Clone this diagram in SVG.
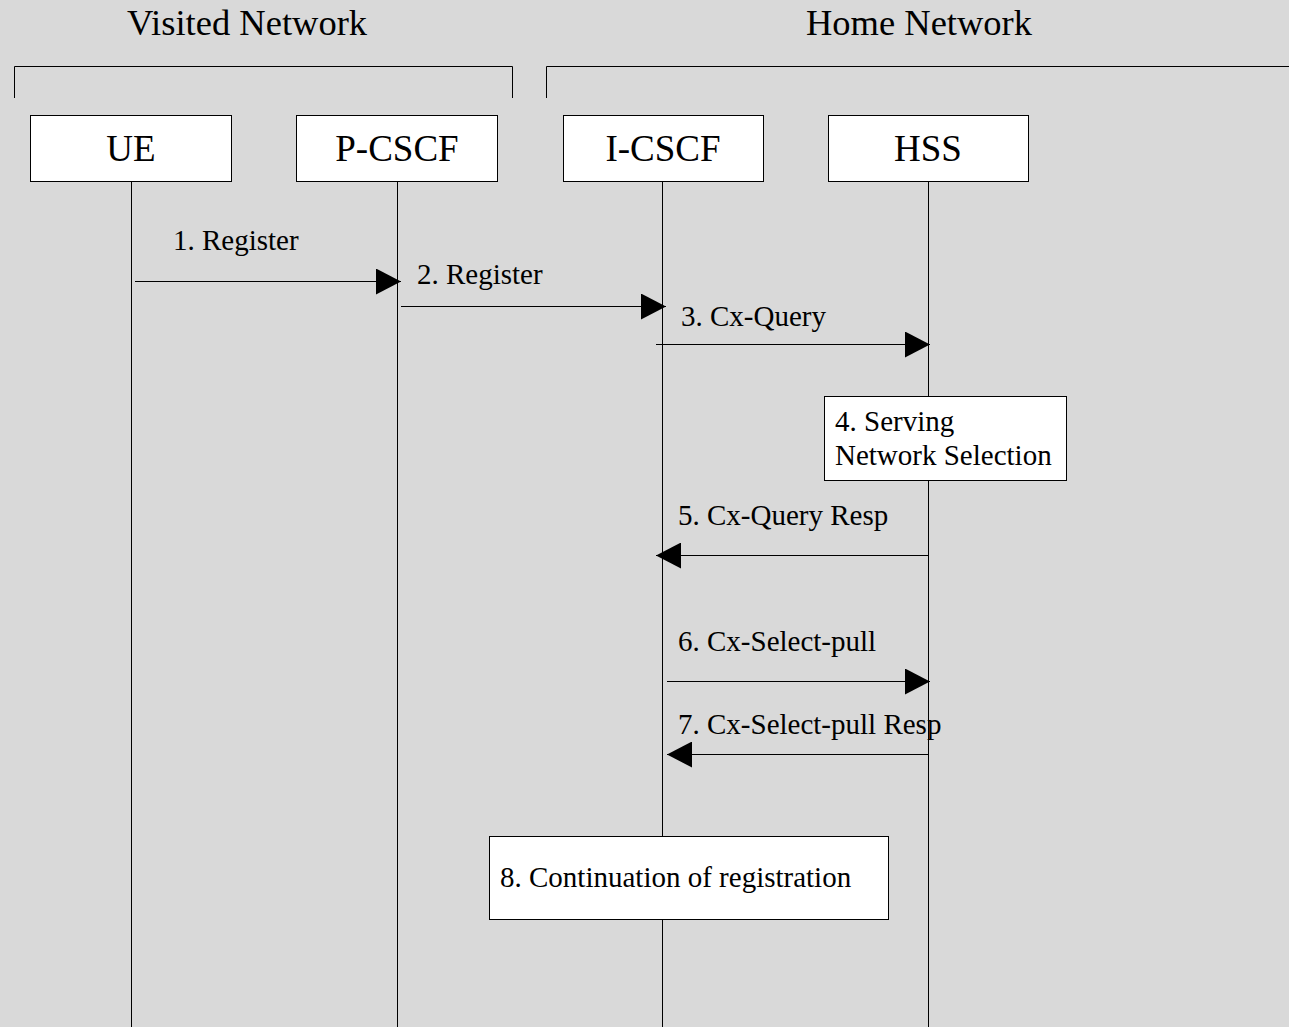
<svg xmlns="http://www.w3.org/2000/svg" width="1289" height="1027" viewBox="0 0 1289 1027">
<defs>
<marker id="ah" markerWidth="25" markerHeight="26" refX="25" refY="13" orient="auto" markerUnits="userSpaceOnUse">
<path d="M0,0 L25,13 L0,26 Z" fill="#000"/>
</marker>
<style>
.t{font-family:"Liberation Serif","Times New Roman",serif;fill:#000}
.big{font-size:37px}
.ttl{font-size:36.5px}
.lbl{font-size:29px}
.box{fill:#fff;stroke:#000;stroke-width:1}
.ll{stroke:#000;stroke-width:1;fill:none}
.msg{stroke:#000;stroke-width:1;fill:none;marker-end:url(#ah)}
</style>
</defs>
<rect x="0" y="0" width="1289" height="1027" fill="#d9d9d9"/>
<g id="titles">
<text class="t ttl" x="247" y="35" text-anchor="middle">Visited Network</text>
<text class="t ttl" x="919" y="35" text-anchor="middle">Home Network</text>
<path class="ll" d="M14.5,98 V66.5 H512.5 V98"/>
<path class="ll" d="M546.5,98 V66.5 H1289"/>
</g>
<g id="lifelines">
<line class="ll" x1="131.5" y1="181" x2="131.5" y2="1027"/>
<line class="ll" x1="397.5" y1="181" x2="397.5" y2="1027"/>
<line class="ll" x1="662.5" y1="181" x2="662.5" y2="1027"/>
<line class="ll" x1="928.5" y1="181" x2="928.5" y2="1027"/>
</g>
<g id="node-ue"><rect class="box" x="30.5" y="115.5" width="201" height="66"/><text class="t big" x="131" y="161" text-anchor="middle">UE</text></g>
<g id="node-pcscf"><rect class="box" x="296.5" y="115.5" width="201" height="66"/><text class="t big" x="397" y="161" text-anchor="middle">P-CSCF</text></g>
<g id="node-icscf"><rect class="box" x="563.5" y="115.5" width="200" height="66"/><text class="t big" x="663" y="161" text-anchor="middle">I-CSCF</text></g>
<g id="node-hss"><rect class="box" x="828.5" y="115.5" width="200" height="66"/><text class="t big" x="928" y="161" text-anchor="middle">HSS</text></g>
<g id="connectors">
<line class="msg" x1="135" y1="281.5" x2="401" y2="281.5"/>
<line class="msg" x1="401" y1="306.5" x2="666" y2="306.5"/>
<line class="msg" x1="656" y1="344.5" x2="930" y2="344.5"/>
<line class="msg" x1="928" y1="555.5" x2="656" y2="555.5"/>
<line class="msg" x1="667" y1="681.5" x2="930" y2="681.5"/>
<line class="msg" x1="928" y1="754.5" x2="667" y2="754.5"/>
</g>
<g id="labels">
<text class="t lbl" x="173" y="250">1. Register</text>
<text class="t lbl" x="417" y="284">2. Register</text>
<text class="t lbl" x="681" y="326">3. Cx-Query</text>
<text class="t lbl" x="678" y="525">5. Cx-Query Resp</text>
<text class="t lbl" x="678" y="651">6. Cx-Select-pull</text>
<text class="t lbl" x="678" y="734">7. Cx-Select-pull Resp</text>
</g>
<g id="node-step4"><rect class="box" x="824.5" y="396.5" width="242" height="84"/><text class="t lbl" x="835" y="431">4. Serving</text><text class="t lbl" x="835" y="465">Network Selection</text></g>
<g id="node-step8"><rect class="box" x="489.5" y="836.5" width="399" height="83"/><text class="t lbl" x="500" y="887">8. Continuation of registration</text></g>
</svg>
